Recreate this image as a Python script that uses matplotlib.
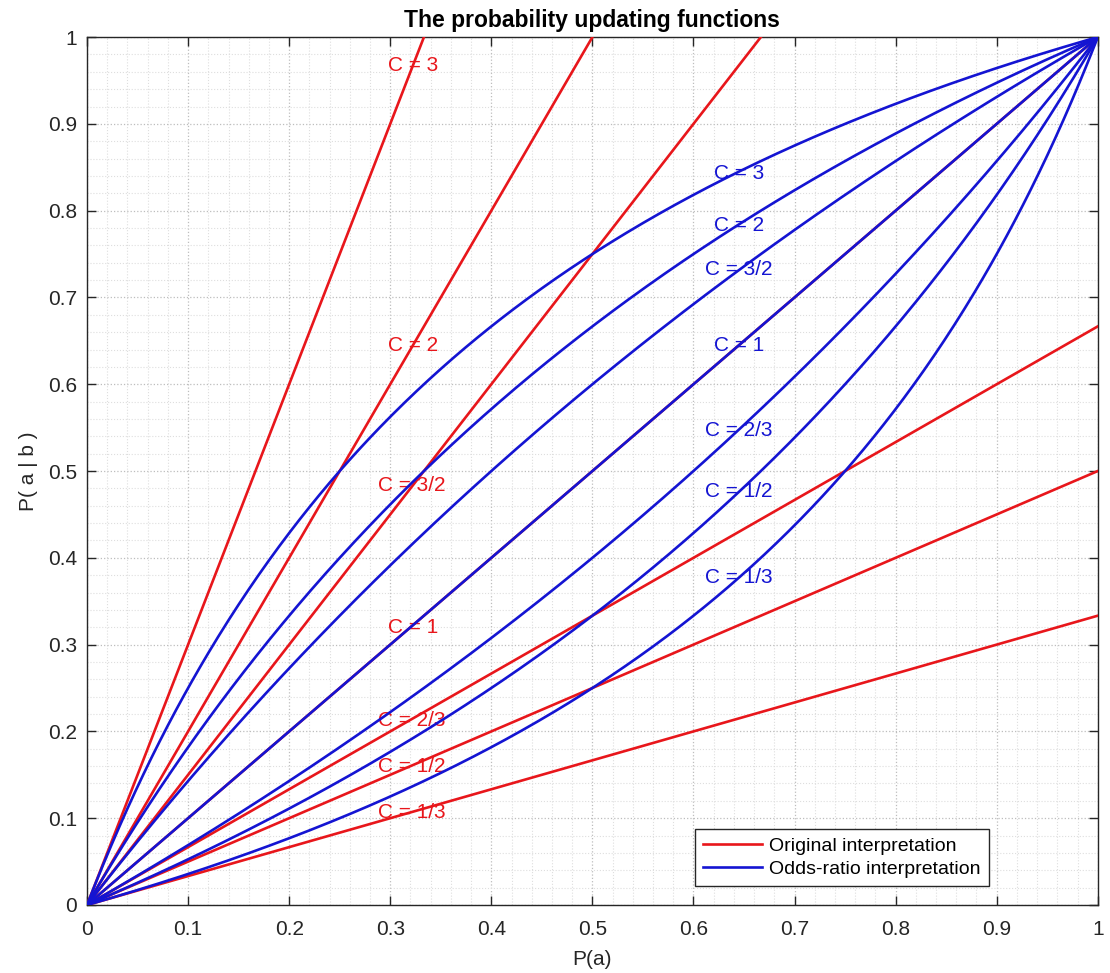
"""
Probability updating functions: original (linear) vs odds-ratio interpretation.
"""
import matplotlib
matplotlib.use("Agg")
import matplotlib.pyplot as plt
import numpy as np
from matplotlib.ticker import MultipleLocator

plt.rcParams["font.family"] = ["Liberation Sans", "DejaVu Sans"]

# update factors, as drawn
C_VALUES = [3, 2, 3 / 2, 1, 2 / 3, 1 / 2, 1 / 3]
C_NAMES = ["3", "2", "3/2", "1", "2/3", "1/2", "1/3"]

# label anchors (left edge, vertical centre)
RED_LABEL_X = [0.298, 0.298, 0.288, 0.298, 0.288, 0.288, 0.288]
RED_LABEL_Y = [0.967, 0.645, 0.483, 0.320, 0.213, 0.159, 0.106]
BLUE_LABEL_X = [0.620, 0.620, 0.611, 0.620, 0.611, 0.611, 0.611]
BLUE_LABEL_Y = [0.843, 0.783, 0.732, 0.645, 0.547, 0.476, 0.377]

TICKS = [0, 0.1, 0.2, 0.3, 0.4, 0.5, 0.6, 0.7, 0.8, 0.9, 1]
TICK_LABELS = ["0", "0.1", "0.2", "0.3", "0.4", "0.5", "0.6", "0.7", "0.8", "0.9", "1"]

RED = "#e8161b"
BLUE = "#1414d2"
DARK = "#262626"

fig = plt.figure(figsize=(11.10, 9.73), dpi=100)
ax = fig.add_axes([0.0784, 0.0699, 0.9106, 0.8920])

p = np.linspace(0, 1, 501)
red_lines, blue_lines = [], []
for c in C_VALUES:
    xr = np.linspace(0, min(1.0, 1.0 / c), 200)
    red_lines += ax.plot(xr, c * xr, color=RED, lw=1.9, zorder=3)
for c in C_VALUES:
    blue_lines += ax.plot(p, c * p / (c * p + 1 - p), color=BLUE, lw=1.9, zorder=4)

for name, x, y in zip(C_NAMES, RED_LABEL_X, RED_LABEL_Y):
    ax.text(x, y, f"C = {name}", color=RED, fontsize=15, ha="left", va="center", zorder=2)
for name, x, y in zip(C_NAMES, BLUE_LABEL_X, BLUE_LABEL_Y):
    ax.text(x, y, f"C = {name}", color=BLUE, fontsize=15, ha="left", va="center", zorder=2)

ax.set_xlim(0, 1)
ax.set_ylim(0, 1)
ax.set_xticks(TICKS)
ax.set_yticks(TICKS)
ax.set_xticklabels(TICK_LABELS)
ax.set_yticklabels(TICK_LABELS)
ax.xaxis.set_minor_locator(MultipleLocator(0.02))
ax.yaxis.set_minor_locator(MultipleLocator(0.02))
ax.tick_params(which="major", direction="in", length=6.5, width=1, colors=DARK,
               labelsize=15, top=True, right=True)
ax.tick_params(axis="x", which="major", pad=11)
ax.tick_params(axis="y", which="major", pad=7)
ax.tick_params(which="minor", length=0, top=True, right=True)
ax.grid(which="major", linestyle=":", color="#bdbdbd", lw=0.9)
ax.grid(which="minor", linestyle=":", color="#dedede", lw=0.8)
ax.set_axisbelow(True)
for s in ax.spines.values():
    s.set_color(DARK)
    s.set_linewidth(1.0)

ax.set_xlabel("P(a)", fontsize=15, color=DARK, labelpad=8)
ax.set_ylabel("P( a | b )", fontsize=15, color=DARK, labelpad=7)
ax.set_title("The probability updating functions", fontsize=16.5, fontweight="bold",
             color="black", pad=7)

leg = ax.legend([red_lines[0], blue_lines[0]],
                ["Original interpretation", "Odds-ratio interpretation"],
                loc="lower right", bbox_to_anchor=(0.892, 0.022), fontsize=14,
                frameon=True, fancybox=False, framealpha=1, edgecolor=DARK,
                handlelength=3.0, borderpad=0.4, labelspacing=0.3, handletextpad=0.4,
                borderaxespad=0)
leg.get_frame().set_linewidth(1.0)

fig.savefig("out.png", dpi=100)
